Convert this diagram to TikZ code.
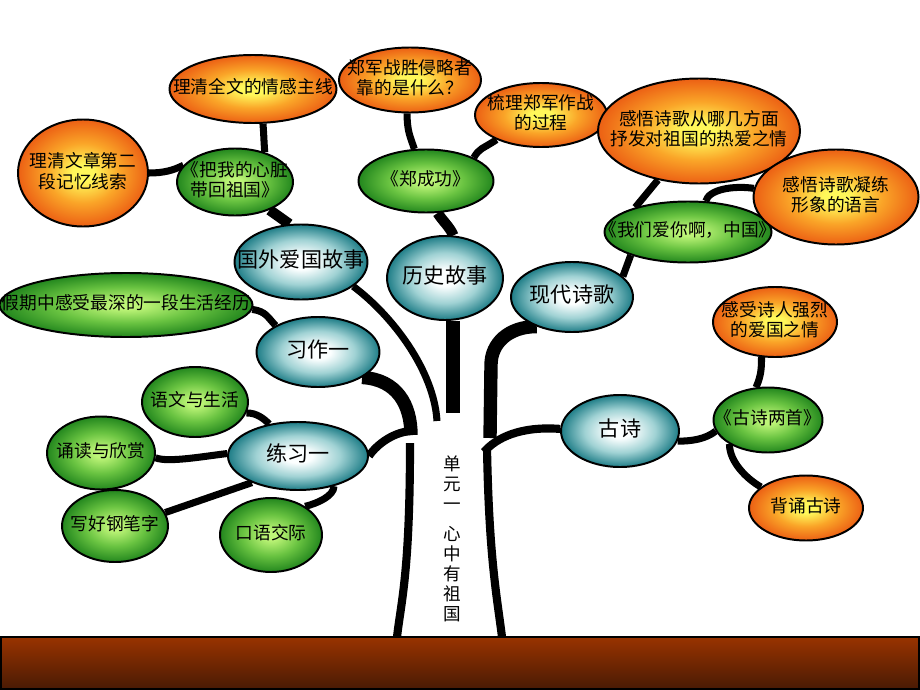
\documentclass[tikz,border=0pt]{standalone}
\usepackage{fontspec}
\newfontfamily\cjk{Noto Sans CJK SC}
\usetikzlibrary{shapes.geometric,backgrounds}
\definecolor{orangeC}{RGB}{255,248,90}
\definecolor{orangeM}{RGB}{250,165,40}
\definecolor{orangeE}{RGB}{236,96,20}
\definecolor{greenC}{RGB}{190,245,120}
\definecolor{greenM}{RGB}{105,195,65}
\definecolor{greenE}{RGB}{35,135,30}
\definecolor{tealC}{RGB}{252,255,255}
\definecolor{tealM}{RGB}{160,210,212}
\definecolor{tealE}{RGB}{30,125,135}
\definecolor{groundtop}{RGB}{153,51,0}
\definecolor{groundbot}{RGB}{72,26,4}
\pgfdeclareradialshading{orangeball}{\pgfpoint{0bp}{0bp}}{color(0bp)=(orangeC); color(4bp)=(orangeC); color(14bp)=(orangeM); color(25bp)=(orangeE); color(50bp)=(orangeE)}
\pgfdeclareradialshading{greenball}{\pgfpoint{0bp}{0bp}}{color(0bp)=(greenC); color(3bp)=(greenC); color(14bp)=(greenM); color(25bp)=(greenE); color(50bp)=(greenE)}
\pgfdeclareradialshading{tealball}{\pgfpoint{0bp}{0bp}}{color(0bp)=(tealC); color(5bp)=(tealC); color(15bp)=(tealM); color(25bp)=(tealE); color(50bp)=(tealE)}
\newcommand{\leaftxt}[1]{\makebox[0pt]{\begin{tabular}{@{}c@{}}#1\end{tabular}}}
\tikzset{
  leaf/.style={ellipse, draw=black, line width=1.4pt, inner sep=0pt, shade,
    font=\cjk\fontsize{12.6}{14.2}\selectfont},
  orangeleaf/.style={leaf, shading=orangeball},
  greenleaf/.style={leaf, shading=greenball},
  tealleaf/.style={leaf, shading=tealball, font=\cjk\fontsize{15}{17}\selectfont},
  dims/.style 2 args={minimum width=#1*0.025cm, minimum height=#2*0.025cm},
  twig/.style={line width=5pt},
  bough/.style={line width=7.5pt},
  limb/.style={line width=9.5pt},
  bark/.style={line width=5.8pt},
  trunktext/.style={align=center, inner sep=0pt, font=\cjk\fontsize{12.5}{14.2}\selectfont}
}

\begin{document}
\begin{tikzpicture}[x=0.025cm, y=-0.025cm]
\useasboundingbox (0,0) rectangle (920,690);

% teal boughs
\node[tealleaf, dims={133}{75}] (guowai) at (301,262) {\leaftxt{国外爱国故事}};
\node[tealleaf, dims={116}{84}] (lishi) at (445,278) {\leaftxt{历史故事}};
\node[tealleaf, dims={122}{70}] (xiandai) at (572,297) {\leaftxt{现代诗歌}};
\node[tealleaf, dims={123}{70}] (xizuo) at (318,352) {\leaftxt{习作一}};
\node[tealleaf, dims={140}{68}] (lianxi) at (298,456) {\leaftxt{练习一}};
\node[tealleaf, dims={118}{72}] (gushi) at (620,431) {\leaftxt{古诗}};

% green leaves
\node[greenleaf, dims={116}{67}] (xinzang) at (235,182) {\leaftxt{《把我的心脏\\带回祖国》}};
\node[greenleaf, dims={135}{63}] (zcg) at (426,181) {\leaftxt{《郑成功》}};
\node[greenleaf, dims={167}{61}] (zhongguo) at (688,232) {\leaftxt{《我们爱你啊，中国》}};
\node[greenleaf, dims={253}{64}] (jingli) at (126,305) {\leaftxt{假期中感受最深的一段生活经历}};
\node[greenleaf, dims={106}{70}] (shenghuo) at (195,402) {\leaftxt{语文与生活}};
\node[greenleaf, dims={108}{73}] (xinshang) at (101,453) {\leaftxt{诵读与欣赏}};
\node[greenleaf, dims={106}{72}] (gangbi) at (115,526) {\leaftxt{写好钢笔字}};
\node[greenleaf, dims={102}{74}] (jiaoji) at (271,535) {\leaftxt{口语交际}};
\node[greenleaf, dims={109}{65}] (liangshou) at (768,420) {\leaftxt{《古诗两首》}};

% orange leaves
\node[orangeleaf, dims={167}{68}] (zhuxian) at (253,89) {\leaftxt{理清全文的情感主线}};
\node[orangeleaf, dims={130}{107}] (xiansuo) at (83,173) {\leaftxt{理清文章第二\\段记忆线索}};
\node[orangeleaf, dims={142}{65}] (kaosha) at (410,80) {\leaftxt{郑军战胜侵略者\\靠的是什么？}};
\node[orangeleaf, dims={132}{64}] (guocheng) at (541,115) {\leaftxt{梳理郑军作战\\的过程}};
\node[orangeleaf, dims={202}{105}] (shuqing) at (699,131) {\leaftxt{感悟诗歌从哪几方面\\抒发对祖国的热爱之情}};
\node[orangeleaf, dims={165}{95}] (yuyan) at (836,197) {\leaftxt{感悟诗歌凝练\\形象的语言}};
\node[orangeleaf, dims={124}{70}] (aiguo) at (775,322) {\leaftxt{感受诗人强烈\\的爱国之情}};
\node[orangeleaf, dims={114}{65}] (beisong) at (806,508) {\leaftxt{背诵古诗}};

% trunk
\coordinate (gwend) at (437,421);
\coordinate (lsend) at (453,413);
\coordinate (xzend) at (411,435);
\coordinate (ljend) at (413,431);
\coordinate (xdmid) at (491,365);
\coordinate (xdend) at (490,438);
\coordinate (gsend) at (484,452);
\coordinate (tl1) at (410,443);
\coordinate (tl2) at (397,637);
\coordinate (tr1) at (487,448);
\coordinate (tr2) at (502,637);
\node[trunktext] (unit) at (452,539) {单\\元\\一\\[7pt]心\\中\\有\\祖\\国};

\begin{scope}[on background layer]
\shade[top color=groundtop, bottom color=groundbot] (0,637) rectangle (920,690);
\draw[bark] (tl1) .. controls +(0,130) and +(4,-35) .. (tl2);
\draw[bark] (tr1) .. controls +(2,110) and +(-5,-40) .. (tr2);
\draw[twig] (guowai.-25) .. controls +(40,30) and +(-3,-50) .. (gwend);
\draw[limb] (lishi.south -| lsend) -- (lsend);
\draw[limb] (xizuo.-30) .. controls +(35,2) and +(0,-30) .. (xzend);
\draw[bark] (lianxi.0) .. controls +(8,-12) and +(-18,0) .. (ljend);
\draw[limb] (xiandai.-140) .. controls +(-28,0) and +(0,-22) .. (xdmid) -- (xdend);
\draw[bark] (gushi.178) .. controls +(-40,-3) and +(12,-14) .. (gsend);

% twigs
\draw[twig] (zhuxian.-74) .. controls +(1,12) and +(-1,-12) .. (xinzang.45);
\draw[twig] (xiansuo.east) .. controls +(15,0) and +(-10,5) .. (xinzang.162);
\draw[bough] (xinzang.-39) -- (guowai.107);
\draw[twig] (kaosha.-95) .. controls +(0,18) and +(-4,-12) .. (zcg.110);
\draw[twig] (guocheng.-151) .. controls +(-15,10) and +(6,-10) .. (zcg.26);
\draw[bough] (zcg.-70) .. controls +(5,8) and +(-3,-8) .. (lishi.79);
\draw[twig] (zhongguo.155) -- (shuqing.-130);
\draw[twig] (zhongguo.60) .. controls +(3,-12) and +(-20,-3) .. (yuyan.174);
\draw[twig] (zhongguo.-158) -- (xiandai.22);
\draw[twig] (jingli.-2) .. controls +(14,2) and +(-8,-8) .. (xizuo.148);
\draw[twig] (shenghuo.-12) .. controls +(10,0) and +(-6,-6) .. (lianxi.132);
\draw[twig] (xinshang.-5) .. controls +(12,5) and +(-25,3) .. (lianxi.178);
\draw[twig] (gangbi.15) -- (lianxi.-150);
\draw[twig] (jiaoji.40) .. controls +(12,-3) and +(0,10) .. (lianxi.-40);
\draw[twig] (gushi.-10) .. controls +(14,0) and +(-10,8) .. (liangshou.-168);
\draw[twig] (liangshou.110) .. controls +(5,-12) and +(0,12) .. (aiguo.-111);
\draw[twig] (liangshou.-148) .. controls +(0,18) and +(-14,-8) .. (beisong.155);
\end{scope}

\draw[line width=1.4pt] (0.9,637) rectangle (919.1,689.1);
\end{tikzpicture}
\end{document}
